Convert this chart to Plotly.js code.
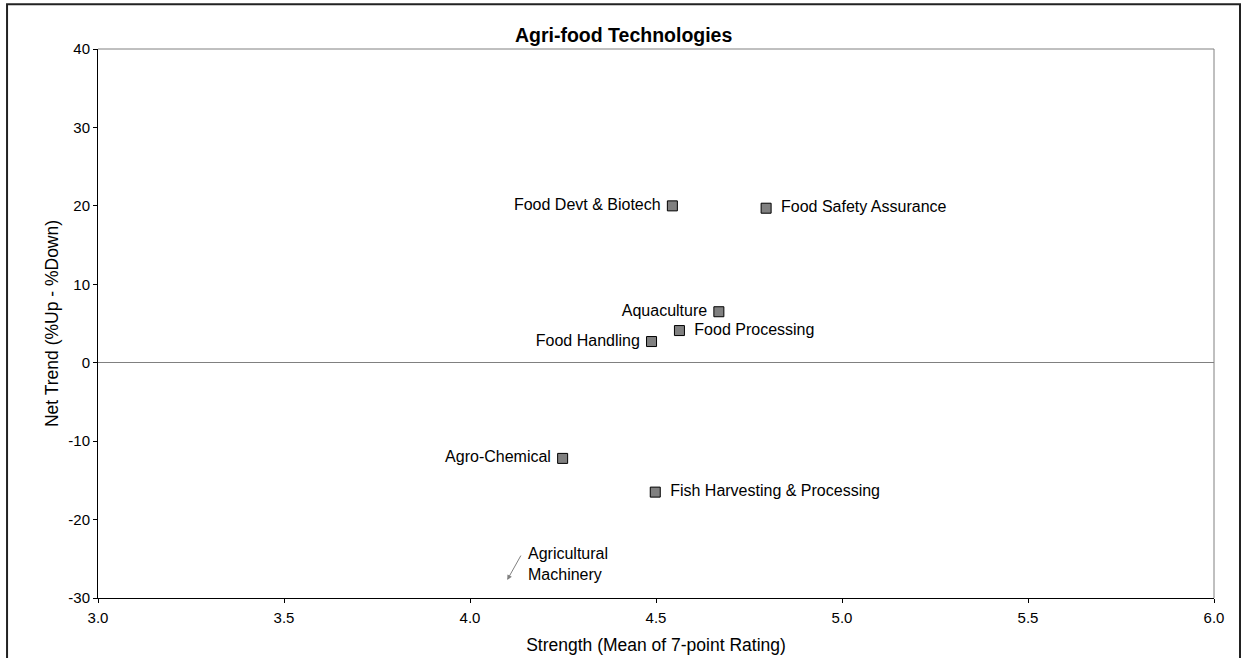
<!DOCTYPE html>
<html>
<head>
<meta charset="utf-8">
<script src="https://cdn.plot.ly/plotly-3.0.1.min.js"></script>
<style>
  html, body { margin: 0; padding: 0; background: #fff; }
  #chart { width: 1245px; height: 658px; }
</style>
</head>
<body>
<div id="chart"></div>
<script>
// Technology areas and their scores
const leftNames  = ["Food Devt & Biotech", "Aquaculture", "Food Handling", "Agro-Chemical"];
const leftStrength = [4.544, 4.669, 4.488, 4.249];
const leftTrend    = [20.0, 6.5, 2.7, -12.2];

const rightNames  = ["Food Safety Assurance", "Food Processing", "Fish Harvesting & Processing"];
const rightStrength = [4.796, 4.563, 4.498];
const rightTrend    = [19.7, 4.1, -16.5];

// Point that falls below the visible range, shown with a pointer
const offChartName = "Agricultural<br>Machinery";
const offChartTip = [4.10, -27.7];
const offChartTail = [4.139, -24.4];
const offChartLabel = [4.151, -25.7];

const xTicks = [3.0, 3.5, 4.0, 4.5, 5.0, 5.5, 6.0];
const yTicks = [-30, -20, -10, 0, 10, 20, 30, 40];

const FONT = "Liberation Sans, Arial, sans-serif";
const NBSP = "\u00a0";
const THIN = "\u2009";

const markerStyle = {
  symbol: "square",
  size: 10,
  color: "#808080",
  line: { color: "#000000", width: 1 }
};

const traces = [
  {
    type: "scatter",
    mode: "markers+text",
    x: leftStrength,
    y: leftTrend,
    text: leftNames.map(s => s + NBSP),
    textposition: "middle left",
    textfont: { family: FONT, size: 16, color: "#000" },
    marker: markerStyle,
    cliponaxis: false,
    hoverinfo: "x+y+text"
  },
  {
    type: "scatter",
    mode: "markers+text",
    x: rightStrength,
    y: rightTrend,
    text: rightNames.map(s => NBSP + THIN + s),
    textposition: "middle right",
    textfont: { family: FONT, size: 16, color: "#000" },
    marker: markerStyle,
    cliponaxis: false,
    hoverinfo: "x+y+text"
  }
];

const layout = {
  width: 1245,
  height: 658,
  margin: { l: 98, r: 31, t: 49, b: 60 },
  paper_bgcolor: "#ffffff",
  plot_bgcolor: "#ffffff",
  showlegend: false,
  font: { family: FONT, size: 15, color: "#000" },
  title: {
    text: "<b>Agri-food Technologies</b>",
    font: { family: FONT, size: 19.5, color: "#000" },
    xref: "paper", x: 0.471, xanchor: "center",
    yref: "container", y: 0.947, yanchor: "middle"
  },
  xaxis: {
    range: [3, 6],
    tickvals: xTicks,
    ticktext: xTicks.map(v => v.toFixed(1)),
    ticks: "outside", ticklen: 4, tickcolor: "#000", tickwidth: 1,
    ticklabelstandoff: 2,
    showline: true, linecolor: "#000", linewidth: 1,
    showgrid: false, zeroline: false,
    tickfont: { family: FONT, size: 15, color: "#000" },
    title: { text: "Strength (Mean of 7-point Rating)", font: { family: FONT, size: 17.5, color: "#000" }, standoff: 13 }
  },
  yaxis: {
    range: [-30, 40],
    tickvals: yTicks,
    ticktext: yTicks.map(v => String(v)),
    ticks: "outside", ticklen: 4, tickcolor: "#000", tickwidth: 1,
    showline: true, linecolor: "#000", linewidth: 1,
    showgrid: false,
    zeroline: true, zerolinecolor: "#808080", zerolinewidth: 1,
    tickfont: { family: FONT, size: 15, color: "#000" },
    title: { text: "Net Trend (%Up - %Down)", font: { family: FONT, size: 17.5, color: "#000" }, standoff: 5 }
  },
  shapes: [
    // grey frame on top and right of the plot area
    { type: "line", xref: "paper", yref: "paper", x0: 0, x1: 1, y0: 1, y1: 1, line: { color: "#808080", width: 1 } },
    { type: "line", xref: "paper", yref: "paper", x0: 1, x1: 1, y0: 0, y1: 1, line: { color: "#808080", width: 1 } },
    // outer chart border
    { type: "rect", xref: "paper", yref: "paper", x0: -0.0815, x1: 1.0233, y0: -0.2, y1: 1.0814,
      line: { color: "#222", width: 2 }, fillcolor: "rgba(0,0,0,0)" }
  ],
  annotations: [
    {
      x: offChartTip[0], y: offChartTip[1], xref: "x", yref: "y",
      ax: offChartTail[0], ay: offChartTail[1], axref: "x", ayref: "y",
      text: "", showarrow: true, arrowhead: 2, arrowsize: 1, arrowwidth: 1, arrowcolor: "#808080"
    },
    {
      x: offChartLabel[0], y: offChartLabel[1], xref: "x", yref: "y",
      text: offChartName, showarrow: false, xanchor: "left", yanchor: "middle", align: "left",
      font: { family: FONT, size: 16, color: "#000" }
    }
  ]
};

Plotly.newPlot("chart", traces, layout, { displayModeBar: false, staticPlot: true });
</script>
</body>
</html>
